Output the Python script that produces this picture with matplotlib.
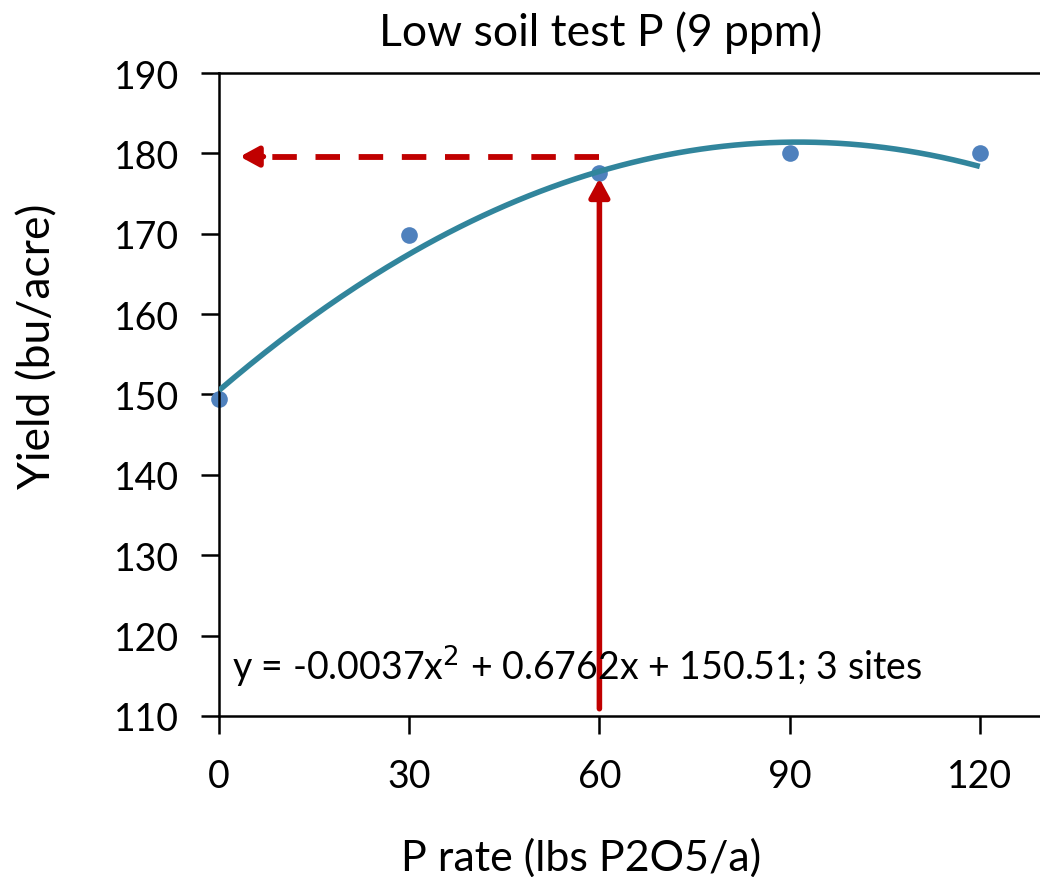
import numpy as np
import matplotlib.pyplot as plt

# observed yields
p_rate = [0, 30, 60, 90, 120]
yield_bu = [149.4, 169.8, 177.6, 180.0, 180.0]

# quadratic fit reported on the chart
coef = [-0.0037, 0.6762, 150.51]
fit_label = 'y = -0.0037x$^2$ + 0.6762x + 150.51; 3 sites'

# economic optimum arrows
opt_rate = 60
opt_yield = 179.6
arrow_base = 110.9
arrow_tip = 176.9

x_ticks = [0, 30, 60, 90, 120]
y_ticks = [110, 120, 130, 140, 150, 160, 170, 180, 190]

plt.rcParams['font.family'] = ['Lato', 'DejaVu Sans']

fig = plt.figure(figsize=(10.4, 8.78), dpi=100)
ax = fig.add_axes([0.2106, 0.1834, 0.7894, 0.7323])

xs = np.linspace(0, 120, 200)
ax.plot(xs, np.polyval(coef, xs), color='#31859C', lw=4.0, solid_capstyle='butt', zorder=3)
ax.plot(p_rate, yield_bu, 'o', color='#4F81BD', ms=12, mec='none', zorder=2, clip_on=False)

red = '#C00000'
# dashed horizontal arrow
ax.plot([opt_rate, 6.8], [opt_yield, opt_yield], color=red, lw=4.2,
        dashes=(4.2, 3.2), solid_capstyle='butt', dash_capstyle='butt', zorder=4)
ax.annotate('', xy=(3.3, opt_yield), xytext=(7.0, opt_yield),
            arrowprops=dict(arrowstyle='-|>,head_length=1.1,head_width=0.6',
                            color=red, lw=4.0, shrinkA=0, shrinkB=0), zorder=4)
# solid vertical arrow
ax.annotate('', xy=(opt_rate, arrow_tip), xytext=(opt_rate, arrow_base),
            arrowprops=dict(arrowstyle='-|>,head_length=1.1,head_width=0.6',
                            color=red, lw=4.0, shrinkA=0, shrinkB=0), zorder=4)

ax.text(2.0, 116.2, fit_label, fontsize=27, va='center', ha='left', zorder=5)

ax.set_xlim(0, 129.5)
ax.set_ylim(110, 190)
ax.set_xticks(x_ticks)
ax.set_yticks(y_ticks)
ax.tick_params(axis='both', direction='out', length=13, width=1.8, labelsize=27)
ax.tick_params(axis='x', pad=17)
ax.tick_params(axis='y', pad=16)
ax.spines['right'].set_visible(False)
for s in ['left', 'bottom', 'top']:
    ax.spines[s].set_linewidth(1.8)

ax.set_title('Low soil test P (9 ppm)', fontsize=32, pad=20, x=0.465)
ax.set_xlabel('P rate (lbs P2O5/a)', fontsize=31)
ax.set_ylabel('Yield (bu/acre)', fontsize=32)
ax.xaxis.set_label_coords(0.441, -0.188)
ax.yaxis.set_label_coords(-0.196, 0.577)

fig.savefig('out.png', dpi=100)
